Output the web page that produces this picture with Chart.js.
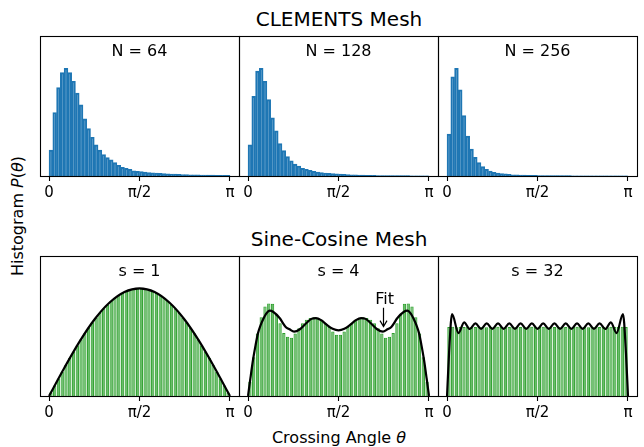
<!DOCTYPE html>
<html>
<head>
<meta charset="utf-8">
<script src="https://cdn.jsdelivr.net/npm/chart.js@4.4.0/dist/chart.umd.min.js"></script>
<style>
body{margin:0;background:#fff;width:644px;height:447px;position:relative;overflow:hidden;font-family:"DejaVu Sans",sans-serif;}
canvas{position:absolute;}
.lbl{position:absolute;white-space:nowrap;color:#000;transform:translate(-50%,-50%);}
</style>
</head>
<body>
<div class="lbl" style="left:339px;top:19px;font-size:20px">CLEMENTS Mesh</div>
<div class="lbl" style="left:339px;top:239px;font-size:20px">Sine-Cosine Mesh</div>
<div class="lbl" style="left:17px;top:216px;font-size:16px;transform:translate(-50%,-50%) rotate(-90deg)">Histogram <i>P</i>(<i>θ</i>)</div>
<div class="lbl" style="left:339px;top:437px;font-size:16px">Crossing Angle <i>θ</i></div>
<script>
// histogram bins over [0, pi]
var nBins = 48;
var binCenters = Array.from({length: nBins}, function(_, i){ return (i + 0.5) * Math.PI / nBins; });

var tickValues = [0, Math.PI / 2, Math.PI];
var tickLabels = ['0', 'π/2', 'π'];

// CLEMENTS mesh, relative height (peak = 1)
var n64 = [0.24, 0.59, 0.82, 0.96, 1.00, 0.96, 0.88, 0.77, 0.66, 0.53, 0.44, 0.36, 0.29, 0.24, 0.20, 0.17,
  0.15, 0.125, 0.10, 0.081, 0.072, 0.062, 0.047, 0.044, 0.040, 0.036, 0.032, 0.029, 0.026, 0.024, 0.022, 0.020,
  0.018, 0.017, 0.015, 0.014, 0.013, 0.012, 0.011, 0.010, 0.009, 0.009, 0.008, 0.008, 0.007, 0.007, 0.006, 0.006];
var n128 = [0.29, 0.74, 0.975, 1.00, 0.88, 0.71, 0.54, 0.42, 0.30, 0.235, 0.18, 0.142, 0.111, 0.093, 0.071, 0.062,
  0.053, 0.043, 0.037, 0.031, 0.028, 0.025, 0.022, 0.019, 0.017, 0.015, 0.013, 0.012, 0.010, 0.009, 0.008, 0.007,
  0.006, 0.006, 0.005, 0.005, 0.004, 0.004, 0.004, 0.003, 0.003, 0.003, 0.003, 0.002, 0.002, 0.002, 0.002, 0.002];
var n256 = [0.39, 0.92, 1.00, 0.80, 0.56, 0.37, 0.25, 0.173, 0.124, 0.087, 0.062, 0.046, 0.034, 0.028, 0.022, 0.019,
  0.015, 0.012, 0.011, 0.009, 0.008, 0.007, 0.006, 0.006, 0.005, 0.005, 0.004, 0.004, 0.004, 0.003, 0.003, 0.003,
  0.003, 0.002, 0.002, 0.002, 0.002, 0.002, 0.002, 0.001, 0.001, 0.001, 0.001, 0.001, 0.001, 0.001, 0.001, 0.001];

// Sine-Cosine mesh, density
var s1 = [0.016, 0.049, 0.081, 0.113, 0.145, 0.176, 0.206, 0.236, 0.264, 0.291, 0.317, 0.342, 0.365, 0.386, 0.406, 0.424,
  0.441, 0.455, 0.468, 0.478, 0.487, 0.493, 0.498, 0.500, 0.500, 0.498, 0.493, 0.487, 0.478, 0.468, 0.455, 0.441,
  0.424, 0.406, 0.386, 0.365, 0.342, 0.317, 0.291, 0.264, 0.236, 0.206, 0.176, 0.145, 0.113, 0.081, 0.049, 0.016];
var s4 = [0.066, 0.18, 0.29, 0.366, 0.415, 0.43, 0.428, 0.377, 0.338, 0.293, 0.275, 0.27, 0.29, 0.315, 0.338, 0.354,
  0.362, 0.366, 0.362, 0.354, 0.338, 0.32, 0.30, 0.284, 0.284, 0.30, 0.32, 0.338, 0.354, 0.362, 0.366, 0.362,
  0.354, 0.338, 0.315, 0.29, 0.27, 0.275, 0.293, 0.338, 0.377, 0.428, 0.43, 0.415, 0.366, 0.29, 0.18, 0.066];
var s32 = [0.320, 0.321, 0.319, 0.320, 0.320, 0.321, 0.319, 0.320, 0.321, 0.320, 0.319, 0.320, 0.320, 0.321, 0.320, 0.319,
  0.320, 0.321, 0.320, 0.320, 0.319, 0.320, 0.321, 0.320, 0.320, 0.321, 0.320, 0.319, 0.320, 0.320, 0.321, 0.320,
  0.319, 0.320, 0.321, 0.320, 0.320, 0.319, 0.320, 0.321, 0.320, 0.320, 0.319, 0.321, 0.320, 0.320, 0.321, 0.320];

// fit curves
var fit1Theta = [0, 0.262, 0.524, 0.785, 1.047, 1.309, 1.571, 1.833, 2.094, 2.356, 2.618, 2.880, 3.142];
var fit1P = [0, 0.129, 0.25, 0.354, 0.433, 0.483, 0.5, 0.483, 0.433, 0.354, 0.25, 0.129, 0];

var fit4Theta = [0, 0.04, 0.086, 0.13, 0.173, 0.22, 0.259, 0.31, 0.375, 0.44, 0.548, 0.65, 0.72, 0.80, 0.90, 1.01,
  1.10, 1.18, 1.27, 1.37, 1.47, 1.571, 1.672, 1.772, 1.872, 1.962, 2.042, 2.132, 2.242, 2.342, 2.422, 2.492,
  2.594, 2.702, 2.767, 2.832, 2.883, 2.922, 2.969, 3.012, 3.056, 3.102, 3.142];
var fit4P = [0, 0.08, 0.167, 0.235, 0.292, 0.33, 0.354, 0.38, 0.396, 0.39, 0.362, 0.322, 0.31, 0.299, 0.31, 0.338,
  0.358, 0.362, 0.352, 0.33, 0.312, 0.305, 0.312, 0.33, 0.352, 0.362, 0.358, 0.338, 0.31, 0.299, 0.31, 0.322,
  0.362, 0.39, 0.396, 0.38, 0.354, 0.33, 0.292, 0.235, 0.167, 0.08, 0];

var fit32Theta = [0, 0.035, 0.087, 0.199, 0.297, 0.395, 0.493, 0.591, 0.689, 0.787, 0.885, 0.983, 1.081, 1.179, 1.277, 1.375,
  1.473, 1.571, 1.669, 1.767, 1.865, 1.963, 2.061, 2.159, 2.257, 2.355, 2.453, 2.551, 2.649, 2.747, 2.845, 2.943,
  3.055, 3.107, 3.142];
var fit32P = [0, 0.2, 0.38, 0.292, 0.342, 0.311, 0.337, 0.312, 0.337, 0.312, 0.337, 0.312, 0.337, 0.312, 0.337, 0.312,
  0.337, 0.312, 0.337, 0.312, 0.337, 0.312, 0.337, 0.312, 0.337, 0.312, 0.337, 0.312, 0.337, 0.311, 0.342, 0.292,
  0.38, 0.2, 0];

var blue = {bg: 'rgba(31,119,180,0.55)', edge: '#1f77b4', bw: 1.3, pct: 1.0};
var green = {bg: 'rgba(44,160,44,0.7)', edge: '#2ca02c', bw: 1, pct: 0.88};

var panels = [
  {left: 40, top: 36, label: 'N = 64', vals: n64, ymax: 1.3, col: blue},
  {left: 239, top: 36, label: 'N = 128', vals: n128, ymax: 1.3, col: blue},
  {left: 438, top: 36, label: 'N = 256', vals: n256, ymax: 1.3, col: blue},
  {left: 40, top: 256, label: 's = 1', vals: s1, ymax: 0.65, col: green, fx: fit1Theta, fy: fit1P},
  {left: 239, top: 256, label: 's = 4', vals: s4, ymax: 0.65, col: green, fx: fit4Theta, fy: fit4P,
    note: {text: 'Fit', x: 2.372, y: 0.447, ax: 2.346, ay0: 0.41, ay: 0.322}},
  {left: 438, top: 256, label: 's = 32', vals: s32, ymax: 0.65, col: green, fx: fit32Theta, fy: fit32P}
];

var plotW = 199, plotH = 140, padX = 12, padTop = 4, axisH = 34;

var framePlugin = {
  id: 'frame',
  afterDraw: function(chart, args, opts) {
    var ctx = chart.ctx, a = chart.chartArea;
    ctx.save();
    ctx.strokeStyle = '#000';
    ctx.lineWidth = 1.1;
    ctx.strokeRect(Math.round(a.left) + 0.5, Math.round(a.top) + 0.5, Math.round(a.right - a.left), Math.round(a.bottom - a.top));
    ctx.fillStyle = '#000';
    ctx.font = '16px "DejaVu Sans"';
    ctx.textAlign = 'center';
    ctx.textBaseline = 'middle';
    ctx.fillText(opts.label, (a.left + a.right) / 2, a.top + 16);
    var n = opts.note;
    if (n) {
      var sx = chart.scales.x, sy = chart.scales.y;
      ctx.fillText(n.text, sx.getPixelForValue(n.x), sy.getPixelForValue(n.y));
      var ax = Math.round(sx.getPixelForValue(n.ax)) + 0.5;
      var y0 = sy.getPixelForValue(n.ay0), y1 = sy.getPixelForValue(n.ay);
      ctx.lineWidth = 1.2;
      ctx.beginPath();
      ctx.moveTo(ax, y0); ctx.lineTo(ax, y1);
      ctx.moveTo(ax - 3.5, y1 - 6); ctx.lineTo(ax, y1); ctx.lineTo(ax + 3.5, y1 - 6);
      ctx.stroke();
    }
    ctx.restore();
  }
};

panels.forEach(function(p) {
  var cv = document.createElement('canvas');
  var w = plotW + 2 * padX, h = padTop + plotH + axisH;
  cv.width = w; cv.height = h;
  cv.style.left = (p.left - padX) + 'px';
  cv.style.top = (p.top - padTop) + 'px';
  cv.style.width = w + 'px'; cv.style.height = h + 'px';
  document.body.appendChild(cv);

  var datasets = [{
    type: 'bar',
    data: binCenters.map(function(c, i){ return {x: c, y: p.vals[i]}; }),
    backgroundColor: p.col.bg,
    borderColor: p.col.edge,
    borderWidth: p.col.bw,
    barPercentage: p.col.pct,
    categoryPercentage: 1.0,
    order: 2
  }];
  if (p.fx) {
    datasets.push({
      type: 'line',
      data: p.fx.map(function(t, i){ return {x: t, y: p.fy[i]}; }),
      borderColor: '#000',
      borderWidth: 2.2,
      pointRadius: 0,
      fill: false,
      cubicInterpolationMode: 'monotone',
      order: 1
    });
  }

  new Chart(cv, {
    type: 'bar',
    data: {datasets: datasets},
    options: {
      responsive: false,
      animation: false,
      devicePixelRatio: 1,
      layout: {padding: {left: padX, right: padX, top: padTop, bottom: 0}},
      plugins: {legend: {display: false}, tooltip: {enabled: false}, frame: {label: p.label, note: p.note}},
      scales: {
        x: {
          type: 'linear',
          min: -0.157, max: Math.PI + 0.157,
          offset: false,
          afterBuildTicks: function(s){ s.ticks = tickValues.map(function(v){ return {value: v}; }); },
          afterFit: function(s){ s.height = axisH; },
          ticks: {
            callback: function(v, i){ return tickLabels[i]; },
            color: '#000', font: {family: 'DejaVu Sans', size: 15}, padding: 3,
            maxRotation: 0, autoSkip: false
          },
          grid: {display: true, drawOnChartArea: false, drawTicks: true, tickLength: 5, tickColor: '#000', tickWidth: 1.1, offset: false},
          border: {display: false}
        },
        y: {display: false, min: 0, max: p.ymax}
      }
    },
    plugins: [framePlugin]
  });
});
</script>
</body>
</html>
